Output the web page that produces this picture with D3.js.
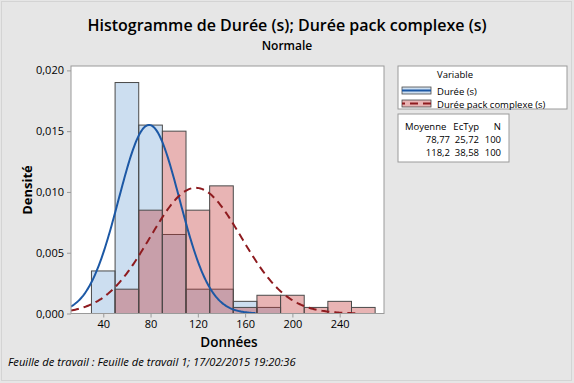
<!DOCTYPE html>
<html>
<head>
<meta charset="utf-8">
<script src="https://cdn.jsdelivr.net/npm/d3@7"></script>
<style>
  body { margin: 0; background: #e6e6e6; }
  svg text { font-family: "Open Sans", "Noto Sans", sans-serif; fill: #000; }
</style>
</head>
<body>
<svg width="574" height="383"></svg>
<script>
// bins (lower edges), width 20
var binEdges = [30, 50, 70, 90, 110, 130, 150, 170, 190, 210, 230, 250];
var binWidth = 20;
// densities
var dureeDens = [0.0035, 0.019, 0.0155, 0.0065, 0.002, 0.002, 0.001, 0.0005, 0, 0, 0, 0];
var packDens  = [0, 0.002, 0.0085, 0.015, 0.0085, 0.0105, 0.0005, 0.0015, 0.0015, 0.0005, 0.001, 0.0005];

var seriesNames = ["Durée (s)", "Durée pack complexe (s)"];
var means = [78.77, 118.2];
var sds = [25.72, 38.58];
var counts = [100, 100];
var meanLabels = ["78,77", "118,2"];
var sdLabels = ["25,72", "38,58"];

var xTicks = [40, 80, 120, 160, 200, 240];
var yTicks = [0, 0.005, 0.010, 0.015, 0.020];

var svg = d3.select("svg");

//==================================================
// frame + background
svg.append("rect").attr("x", 0).attr("y", 0).attr("width", 574).attr("height", 383).attr("fill", "#e6e6e6");
svg.append("rect").attr("x", 1.5).attr("y", 1.5).attr("width", 570).attr("height", 379)
    .attr("fill", "none").attr("stroke", "#d4d4d4");

var pL = 71, pR = 384, pT = 66, pB = 313.5;

var x = d3.scaleLinear().domain([12.7, 277.5]).range([pL, pR]);
var y = d3.scaleLinear().domain([0, 0.02036]).range([pB, pT]);

svg.append("rect").attr("x", pL).attr("y", pT).attr("width", pR - pL).attr("height", pB - pT)
    .attr("fill", "#fff");

svg.append("defs").append("clipPath").attr("id", "clip")
    .append("rect").attr("x", pL).attr("y", pT).attr("width", pR - pL).attr("height", pB - pT);

var plot = svg.append("g").attr("clip-path", "url(#clip)");

//==================================================
// bars
var fills = ["rgba(85,145,205,0.3)", "rgba(193,52,52,0.37)"];
[dureeDens, packDens].forEach(function(dens, k) {
    plot.append("g").selectAll("rect")
        .data(binEdges.map(function(e, i) { return {x0: e, d: dens[i]}; }).filter(function(b) { return b.d > 0; }))
        .enter().append("rect")
        .attr("x", function(b) { return x(b.x0); })
        .attr("y", function(b) { return y(b.d); })
        .attr("width", function(b) { return x(b.x0 + binWidth) - x(b.x0); })
        .attr("height", function(b) { return y(0) - y(b.d); })
        .attr("fill", fills[k])
        .attr("stroke", "#4a4a4a")
        .attr("stroke-width", 1);
});

//==================================================
// fitted normal curves
var curveColors = ["#1c58a5", "#8e1b1f"];
var dashes = [null, "8,5"];
function normal(m, s) {
    return function(v) { return Math.exp(-0.5 * Math.pow((v - m) / s, 2)) / (s * Math.sqrt(2 * Math.PI)); };
}
var line = d3.line().x(function(d) { return x(d[0]); }).y(function(d) { return y(d[1]); });
means.forEach(function(m, k) {
    var f = normal(m, sds[k]);
    var lo = Math.max(m - 3.5 * sds[k], 12.7), hi = Math.min(m + 3.5 * sds[k], 277.5);
    var pts = d3.range(0, 201).map(function(i) { var v = lo + (hi - lo) * i / 200; return [v, f(v)]; });
    plot.append("path").datum(pts)
        .attr("d", line)
        .attr("fill", "none")
        .attr("stroke", curveColors[k])
        .attr("stroke-width", 2)
        .attr("stroke-dasharray", dashes[k]);
});

// plot border
svg.append("rect").attr("x", pL).attr("y", pT).attr("width", pR - pL).attr("height", pB - pT)
    .attr("fill", "none").attr("stroke", "#9a9a9a");

//==================================================
// axes
var fmt = function(d) { return d3.format(".3f")(d).replace(".", ","); };
var yAxis = svg.append("g").attr("transform", "translate(" + pL + ",0)")
    .call(d3.axisLeft(y).tickValues(yTicks).tickFormat(fmt).tickSize(4).tickPadding(3));
var xAxis = svg.append("g").attr("transform", "translate(0," + pB + ")")
    .call(d3.axisBottom(x).tickValues(xTicks).tickSize(4).tickPadding(3));
[yAxis, xAxis].forEach(function(a) {
    a.select(".domain").remove();
    a.selectAll(".tick line").attr("stroke", "#9a9a9a");
    a.selectAll(".tick text").style("font-size", "11px").attr("fill", "#000");
});

//==================================================
// titles
svg.append("text").attr("x", 287).attr("y", 31).attr("text-anchor", "middle")
    .style("font-size", "16px").style("font-weight", "600").text("Histogramme de Durée (s); Durée pack complexe (s)");
svg.append("text").attr("x", 287).attr("y", 50).attr("text-anchor", "middle")
    .style("font-size", "12px").style("font-weight", "600").text("Normale");
svg.append("text").attr("transform", "translate(32,190) rotate(-90)").attr("text-anchor", "middle")
    .style("font-size", "13px").style("font-weight", "bold").text("Densité");
svg.append("text").attr("x", 229).attr("y", 347).attr("text-anchor", "middle")
    .style("font-size", "13.5px").style("font-weight", "600").text("Données");
svg.append("text").attr("x", 8).attr("y", 366)
    .style("font-size", "11.2px").style("font-style", "italic")
    .text("Feuille de travail : Feuille de travail 1; 17/02/2015 19:20:36");

//==================================================
// legend
var lg = svg.append("g");
lg.append("rect").attr("x", 398).attr("y", 66).attr("width", 169).attr("height", 43)
    .attr("fill", "#fff").attr("stroke", "#9a9a9a");
lg.append("text").attr("x", 437).attr("y", 78).style("font-size", "9.5px").text("Variable");
seriesNames.forEach(function(n, k) {
    var yy = 91 + k * 13;
    lg.append("rect").attr("x", 402).attr("y", yy - 4).attr("width", 29).attr("height", 7)
        .attr("fill", fills[k]).attr("stroke", "#4a4a4a").attr("stroke-width", 0.8);
    lg.append("line").attr("x1", 402).attr("x2", 431).attr("y1", yy - 0.5).attr("y2", yy - 0.5)
        .attr("stroke", curveColors[k]).attr("stroke-width", 2).attr("stroke-dasharray", k ? "3,5,8,5,8" : null);
    lg.append("text").attr("x", 437).attr("y", yy + 3.5).style("font-size", "9.5px").text(n);
});

// stats table
var st = svg.append("g");
st.append("rect").attr("x", 398).attr("y", 114).attr("width", 111).attr("height", 48)
    .attr("fill", "#fff").attr("stroke", "#9a9a9a");
st.append("text").attr("x", 405).attr("y", 130).style("font-size", "9.5px").text("Moyenne");
st.append("text").attr("x", 479).attr("y", 130).attr("text-anchor", "end").style("font-size", "9.5px").text("EcTyp");
st.append("text").attr("x", 501).attr("y", 130).attr("text-anchor", "end").style("font-size", "9.5px").text("N");
means.forEach(function(m, k) {
    var yy = 143 + k * 13;
    st.append("text").attr("x", 450).attr("y", yy).attr("text-anchor", "end").style("font-size", "9.5px").text(meanLabels[k]);
    st.append("text").attr("x", 479).attr("y", yy).attr("text-anchor", "end").style("font-size", "9.5px").text(sdLabels[k]);
    st.append("text").attr("x", 501).attr("y", yy).attr("text-anchor", "end").style("font-size", "9.5px").text(counts[k]);
});
</script>
</body>
</html>
